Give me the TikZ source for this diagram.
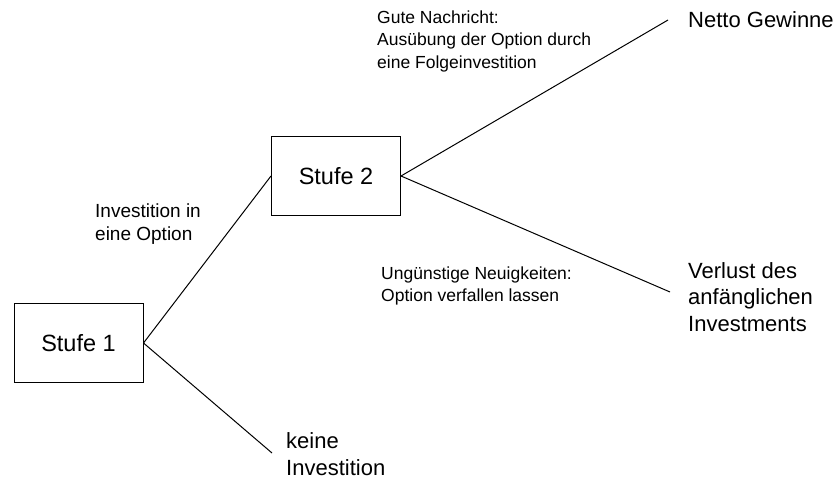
\documentclass[tikz,border=0pt]{standalone}
\usepackage{fontspec}
\setmainfont{Liberation Sans}
\tikzset{
  stufe/.style={draw, line width=1pt, minimum width=129pt, minimum height=79pt, font=\fontsize{23.5}{28}\selectfont},
  gross/.style={anchor=west, align=left, inner sep=0pt, font=\fontsize{22}{26.5}\selectfont},
  klein/.style={anchor=west, align=left, inner sep=0pt, font=\fontsize{17.5}{22.5}\selectfont},
  ast/.style={line width=1pt},
}
\begin{document}
\begin{tikzpicture}[x=1pt,y=-1pt]
  \useasboundingbox (0,0) rectangle (837,481);
  % Stufen
  \node[stufe] (s1) at (78.5,343) {Stufe 1};
  \node[stufe] (s2) at (336,176) {Stufe 2};
  % Enden der Aeste
  \coordinate (eNetto) at (668,20);
  \coordinate (eVerlust) at (670,292);
  \coordinate (eKeine) at (272,453);
  % Ergebnisse
  \node[gross] (netto) at (688,20) {Netto Gewinne};
  \node[gross] (verlust) at (688,297) {Verlust des\\anfänglichen\\Investments};
  \node[gross] (keine) at (286,454) {keine\\Investition};
  % Beschriftungen
  \node[klein, font=\fontsize{19}{23}\selectfont] (inv) at (95,224) {Investition in\\eine Option};
  \node[klein] (gut) at (377,41) {Gute Nachricht:\\Ausübung der Option durch\\eine Folgeinvestition};
  \node[klein] (schlecht) at (381,286) {Ungünstige Neuigkeiten:\\Option verfallen lassen};
  % Aeste
  \draw[ast] (s1.east) -- (s2.west);
  \draw[ast] (s1.east) -- (eKeine);
  \draw[ast] (s2.east) -- (eNetto);
  \draw[ast] (s2.east) -- (eVerlust);
\end{tikzpicture}
\end{document}
